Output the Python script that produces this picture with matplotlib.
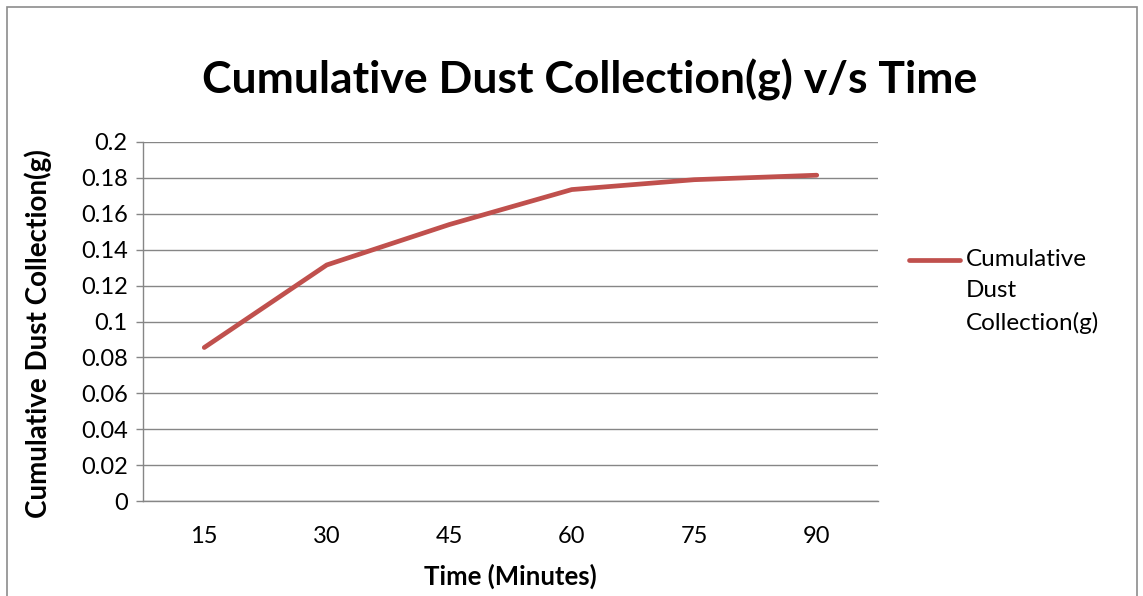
import matplotlib
matplotlib.use("Agg")
from matplotlib import pyplot as plt
from matplotlib.patches import Rectangle
from matplotlib.lines import Line2D
import numpy as np

# cumulative dust collected at each sampling time
times = ["15", "30", "45", "60", "75", "90"]
dust = [0.0855, 0.1315, 0.154, 0.1735, 0.179, 0.1815]
y_ticks = [0, 0.02, 0.04, 0.06, 0.08, 0.1, 0.12, 0.14, 0.16, 0.18, 0.2]
y_tick_labels = ["0", "0.02", "0.04", "0.06", "0.08", "0.1", "0.12", "0.14", "0.16", "0.18", "0.2"]
series_name = "Cumulative\nDust\nCollection(g)"

plt.rcParams['font.family'] = ['Lato', 'DejaVu Sans']
grid_col = '#868686'
line_col = '#C0504D'

fig = plt.figure(figsize=(11.43, 5.96), dpi=100)
W, H = 1143., 596.

# outer chart frame
fig.patches.append(Rectangle((7 / W, -0.05), 1130 / W, 1 - 7 / H + 0.05,
                             transform=fig.transFigure, fill=False,
                             edgecolor='#8c8c8c', lw=1.2))

ax = fig.add_axes([143 / W, 1 - 501 / H, 735 / W, 359 / H])
x = np.arange(len(times))
ax.plot(x, dust, color=line_col, lw=3.4, solid_capstyle='round',
        solid_joinstyle='round', zorder=3)

ax.set_xlim(-0.5, len(times) - 0.5)
ax.set_ylim(0, 0.2)
ax.set_xticks(x)
ax.set_xticklabels(times)
ax.set_yticks(y_ticks)
ax.set_yticklabels(y_tick_labels)
ax.tick_params(axis='x', length=0, pad=18, labelsize=17)
ax.tick_params(axis='y', length=5, width=1, color=grid_col, pad=6, labelsize=17)
ax.yaxis.grid(True, color=grid_col, lw=1.0)
ax.set_axisbelow(True)
for s in ['top', 'right']:
    ax.spines[s].set_visible(False)
for s in ['left', 'bottom']:
    ax.spines[s].set_color(grid_col)
    ax.spines[s].set_linewidth(1.0)

fig.text(590 / W, 1 - 80 / H, "Cumulative Dust Collection(g) v/s Time",
         ha='center', va='center', fontsize=32, fontweight='bold')
fig.text(38 / W, 1 - 334 / H, "Cumulative Dust Collection(g)", rotation=90,
         ha='center', va='center', fontsize=20, fontweight='bold')
fig.text(510 / W, 1 - 576 / H, "Time (Minutes)",
         ha='center', va='center', fontsize=18.5, fontweight='bold')

# legend: line key next to the first line of the series name
fig.add_artist(Line2D([909 / W, 960 / W], [1 - 260 / H, 1 - 260 / H],
                      transform=fig.transFigure, color=line_col, lw=3.4,
                      solid_capstyle='round'))
fig.text(966 / W, 1 - 249 / H, series_name, ha='left', va='top',
         fontsize=17.5, linespacing=1.6)

fig.savefig("out.png", dpi=100)
